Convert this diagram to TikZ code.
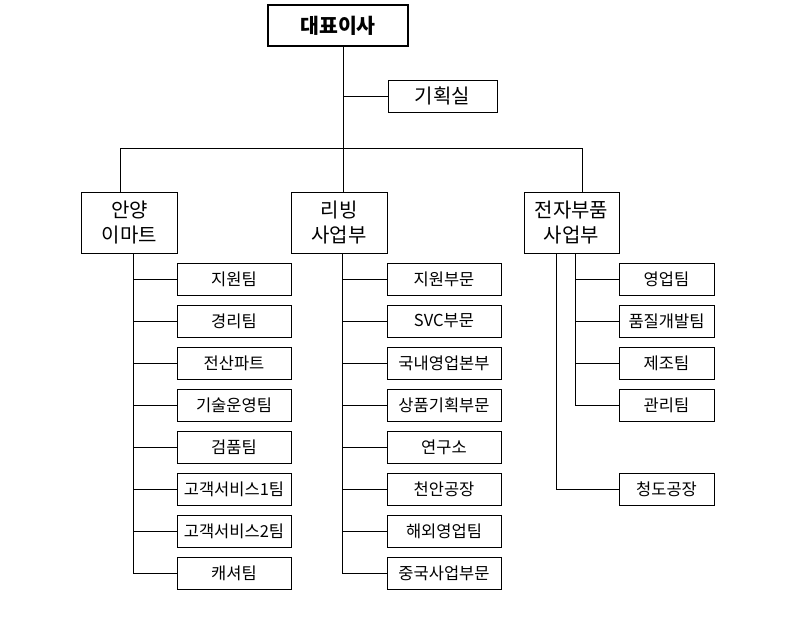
\documentclass[tikz,border=0pt]{standalone}
\usepackage{fontspec}
\newfontfamily\kr{Noto Sans CJK KR}
\begin{document}
\begin{tikzpicture}[x=1pt,y=-1pt,
  base/.style={draw, line width=0.8pt, inner sep=0pt, align=center},
  ceobox/.style={base, line width=2pt, minimum width=140pt, minimum height=41pt, font=\kr\bfseries\fontsize{20.5}{24}\selectfont},
  planbox/.style={base, minimum width=109pt, minimum height=32pt, font=\kr\fontsize{20}{24}\selectfont},
  divbox/.style={base, minimum width=96pt, minimum height=61pt, font=\kr\fontsize{20}{25}\selectfont},
  teambox/.style={base, minimum width=114pt, minimum height=32pt, font=\kr\fontsize{16.5}{18}\selectfont},
  smallteam/.style={base, minimum width=95pt, minimum height=32pt, font=\kr\fontsize{16.5}{18}\selectfont},
  link/.style={line width=0.8pt}]
\useasboundingbox (0,0) rectangle (787,632);

\node[ceobox] (ceo) at (338,25.5) {대표이사};
\node[planbox] (plan) at (442.5,96) {기획실};

\node[divbox] (anyang) at (129.5,222.5) {안양\\이마트};
\node[divbox] (living) at (339,222.5) {리빙\\사업부};
\node[divbox, minimum width=95pt] (elec) at (571.5,222.5) {전자부품\\사업부};

% left group
\foreach \t [count=\i from 0] in {지원팀,경리팀,전산파트,기술운영팀,검품팀,고객서비스1팀,고객서비스2팀,캐셔팀}
  \node[teambox] (a\i) at (234,279+42*\i) {\t};
% middle group
\foreach \t [count=\i from 0] in {지원부문,SVC부문,국내영업본부,상품기획부문,연구소,천안공장,해외영업팀,중국사업부문}
  \node[teambox] (b\i) at (444,279+42*\i) {\t};
% right group
\foreach \t [count=\i from 0] in {영업팀,품질개발팀,제조팀,관리팀}
  \node[smallteam] (c\i) at (666.5,279+42*\i) {\t};
\node[smallteam] (c5) at (666.5,489) {청도공장};

% connectors
\coordinate (j) at (343,148);
\coordinate (hl) at (120,148);
\coordinate (hr) at (582,148);
\draw[link] (ceo.south -| j) -- (j);
\draw[link] (plan.west) -- (plan.west -| j);
\draw[link] (hl) -- (hr);
\draw[link] (hl) -- (hl |- anyang.north);
\draw[link] (j) -- (j |- living.north);
\draw[link] (hr) -- (hr |- elec.north);

\coordinate (ls) at (133,0);
\coordinate (ms) at (342,0);
\coordinate (rs) at (575,0);
\coordinate (rg) at (556,0);
\draw[link] (anyang.south -| ls) -- (a7.west -| ls);
\draw[link] (living.south -| ms) -- (b7.west -| ms);
\draw[link] (elec.south -| rs) -- (c3.west -| rs);
\draw[link] (elec.south -| rg) -- (c5.west -| rg);
\foreach \i in {0,...,7} {
  \draw[link] (a\i.west) -- (a\i.west -| ls);
  \draw[link] (b\i.west) -- (b\i.west -| ms);
}
\foreach \i in {0,...,3}
  \draw[link] (c\i.west) -- (c\i.west -| rs);
\draw[link] (c5.west) -- (c5.west -| rg);
\end{tikzpicture}
\end{document}
